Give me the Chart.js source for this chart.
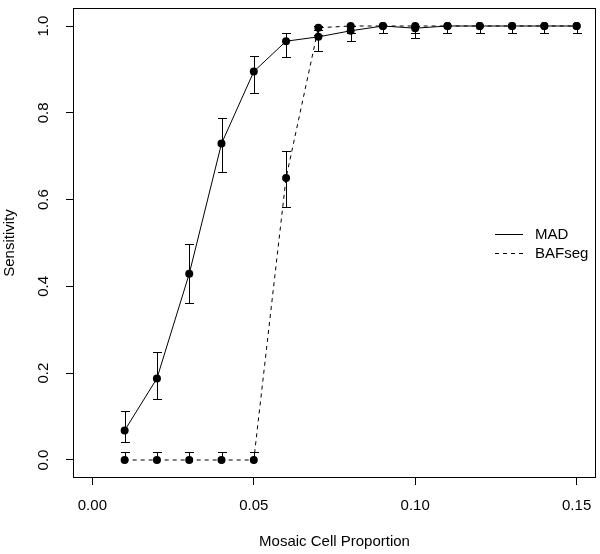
<!DOCTYPE html>
<html>
<head>
<meta charset="utf-8">
<script src="https://cdn.jsdelivr.net/npm/chart.js@4.4.1/dist/chart.umd.min.js"></script>
<style>
  html, body { margin: 0; padding: 0; background: #fff; }
  canvas { display: block; }
</style>
</head>
<body>
<canvas id="sens-chart" width="600" height="554"></canvas>
<script>
// mosaic cell proportions
const proportions = [0.01, 0.02, 0.03, 0.04, 0.05, 0.06, 0.07, 0.08, 0.09, 0.10, 0.11, 0.12, 0.13, 0.14, 0.15];

// MAD sensitivity and its interval
const madValues = [0.068, 0.188, 0.429, 0.729, 0.895, 0.965, 0.975, 0.989, 1.0, 0.995, 1.0, 1.0, 1.0, 1.0, 1.0];
const madLower = [0.041, 0.141, 0.362, 0.664, 0.845, 0.929, 0.943, 0.965, 0.983, 0.973, 0.983, 0.983, 0.983, 0.983, 0.983];
const madUpper = [0.112, 0.249, 0.498, 0.787, 0.931, 0.983, 0.99, 1.0, 1.0, 1.0, 1.0, 1.0, 1.0, 1.0, 1.0];

// BAFseg sensitivity and its interval
const bafValues = [0, 0, 0, 0, 0, 0.65, 0.996, 1.0, 1.0, 1.0, 1.0, 1.0, 1.0, 1.0, 1.0];
const bafLower = [0, 0, 0, 0, 0, 0.583, 0.98, 0.983, 0.983, 0.983, 0.983, 0.983, 0.983, 0.983, 0.983];
const bafUpper = [0.0175, 0.0175, 0.0175, 0.0175, 0.0175, 0.712, 1.0, 1.0, 1.0, 1.0, 1.0, 1.0, 1.0, 1.0, 1.0];

// axis ticks
const xTicks = [0, 0.05, 0.10, 0.15];
const yTicks = [0, 0.2, 0.4, 0.6, 0.8, 1.0];

const FONT = '"Liberation Sans", Arial, Helvetica, sans-serif';

const toPoints = (ys) => proportions.map((x, i) => ({ x: x, y: ys[i] }));

// error bars drawn like R's arrows(angle = 90, code = 3)
const errorBars = {
    id: 'errorBars',
    afterDatasetsDraw(chart) {
        const ctx = chart.ctx;
        const xs = chart.scales.x;
        const ys = chart.scales.y;
        const cap = 4.5;
        const sets = [[madValues, madLower, madUpper], [bafValues, bafLower, bafUpper]];
        ctx.save();
        ctx.strokeStyle = '#000';
        ctx.lineWidth = 1;
        sets.forEach(([vals, lo, hi]) => {
            proportions.forEach((p, i) => {
                const px = Math.round(xs.getPixelForValue(p)) + 0.5;
                const py = ys.getPixelForValue(vals[i]);
                [lo[i], hi[i]].forEach(end => {
                    if (Math.abs(end - vals[i]) < 1e-6) return;
                    const ey = Math.round(ys.getPixelForValue(end)) + 0.5;
                    ctx.beginPath();
                    ctx.moveTo(px, py);
                    ctx.lineTo(px, ey);
                    ctx.moveTo(px - cap, ey);
                    ctx.lineTo(px + cap, ey);
                    ctx.stroke();
                });
            });
        });
        ctx.restore();
    }
};

// plot frame and the legend on the right
const frameAndLegend = {
    id: 'frameAndLegend',
    afterDraw(chart) {
        const ctx = chart.ctx;
        const a = chart.chartArea;
        ctx.save();
        ctx.strokeStyle = '#000';
        ctx.lineWidth = 1;
        ctx.strokeRect(Math.round(a.left) + 0.5, Math.round(a.top) + 0.5,
            Math.round(a.right - a.left) - 1, Math.round(a.bottom - a.top) - 1);

        const rows = [['MAD', []], ['BAFseg', [4, 4]]];
        const yMid = (a.top + a.bottom) / 2;
        ctx.font = '15px ' + FONT;
        ctx.fillStyle = '#000';
        ctx.textBaseline = 'middle';
        rows.forEach(([label, dash], i) => {
            const y = Math.round(yMid - 9.5 + i * 19) + 0.5;
            ctx.setLineDash(dash);
            ctx.beginPath();
            ctx.moveTo(495, y);
            ctx.lineTo(523, y);
            ctx.stroke();
            ctx.setLineDash([]);
            ctx.fillText(label, 535, y);
        });
        ctx.restore();
    }
};

const canvas = document.getElementById('sens-chart');
new Chart(canvas, {
    type: 'scatter',
    data: {
        datasets: [
            {
                label: 'MAD',
                data: toPoints(madValues),
                showLine: true,
                borderColor: '#000',
                borderWidth: 1,
                backgroundColor: '#000',
                pointRadius: 4,
                pointBorderWidth: 0,
                pointBackgroundColor: '#000'
            },
            {
                label: 'BAFseg',
                data: toPoints(bafValues),
                showLine: true,
                borderColor: '#000',
                borderWidth: 1,
                borderDash: [4, 4],
                backgroundColor: '#000',
                pointRadius: 4,
                pointBorderWidth: 0,
                pointBackgroundColor: '#000'
            }
        ]
    },
    options: {
        responsive: false,
        animation: false,
        devicePixelRatio: 1,
        layout: { padding: { top: 8, right: 4, left: 0, bottom: 0 } },
        plugins: {
            legend: { display: false },
            tooltip: { enabled: false }
        },
        scales: {
            x: {
                type: 'linear',
                min: -0.006,
                max: 0.156,
                afterBuildTicks: (scale) => { scale.ticks = xTicks.map(v => ({ value: v })); },
                afterFit: (scale) => {
                    scale.height = 76;
                    scale.paddingLeft = 0;
                    scale.paddingRight = 0;
                },
                grid: { display: true, drawOnChartArea: false, drawTicks: true, tickLength: 7, color: '#000' },
                border: { display: false },
                ticks: {
                    color: '#000',
                    padding: 12,
                    maxRotation: 0,
                    font: { family: FONT, size: 15 },
                    callback: (v) => Number(v).toFixed(2)
                },
                title: {
                    display: true,
                    text: 'Mosaic Cell Proportion',
                    color: '#000',
                    font: { family: FONT, size: 15 },
                    padding: { top: 0, bottom: 3 }
                }
            },
            y: {
                type: 'linear',
                min: -0.0415,
                max: 1.0415,
                afterBuildTicks: (scale) => { scale.ticks = yTicks.map(v => ({ value: v })); },
                afterFit: (scale) => {
                    scale.width = 73;
                    scale.paddingTop = 0;
                    scale.paddingBottom = 0;
                },
                grid: { display: true, drawOnChartArea: false, drawTicks: true, tickLength: 7, color: '#000' },
                border: { display: false },
                ticks: {
                    color: '#000',
                    padding: 12,
                    minRotation: 90,
                    maxRotation: 90,
                    crossAlign: 'center',
                    font: { family: FONT, size: 15 },
                    callback: (v) => Number(v).toFixed(1)
                },
                title: {
                    display: true,
                    text: 'Sensitivity',
                    color: '#000',
                    font: { family: FONT, size: 15 },
                    padding: { top: 1, bottom: 0 }
                }
            }
        }
    },
    plugins: [errorBars, frameAndLegend]
});
</script>
</body>
</html>
